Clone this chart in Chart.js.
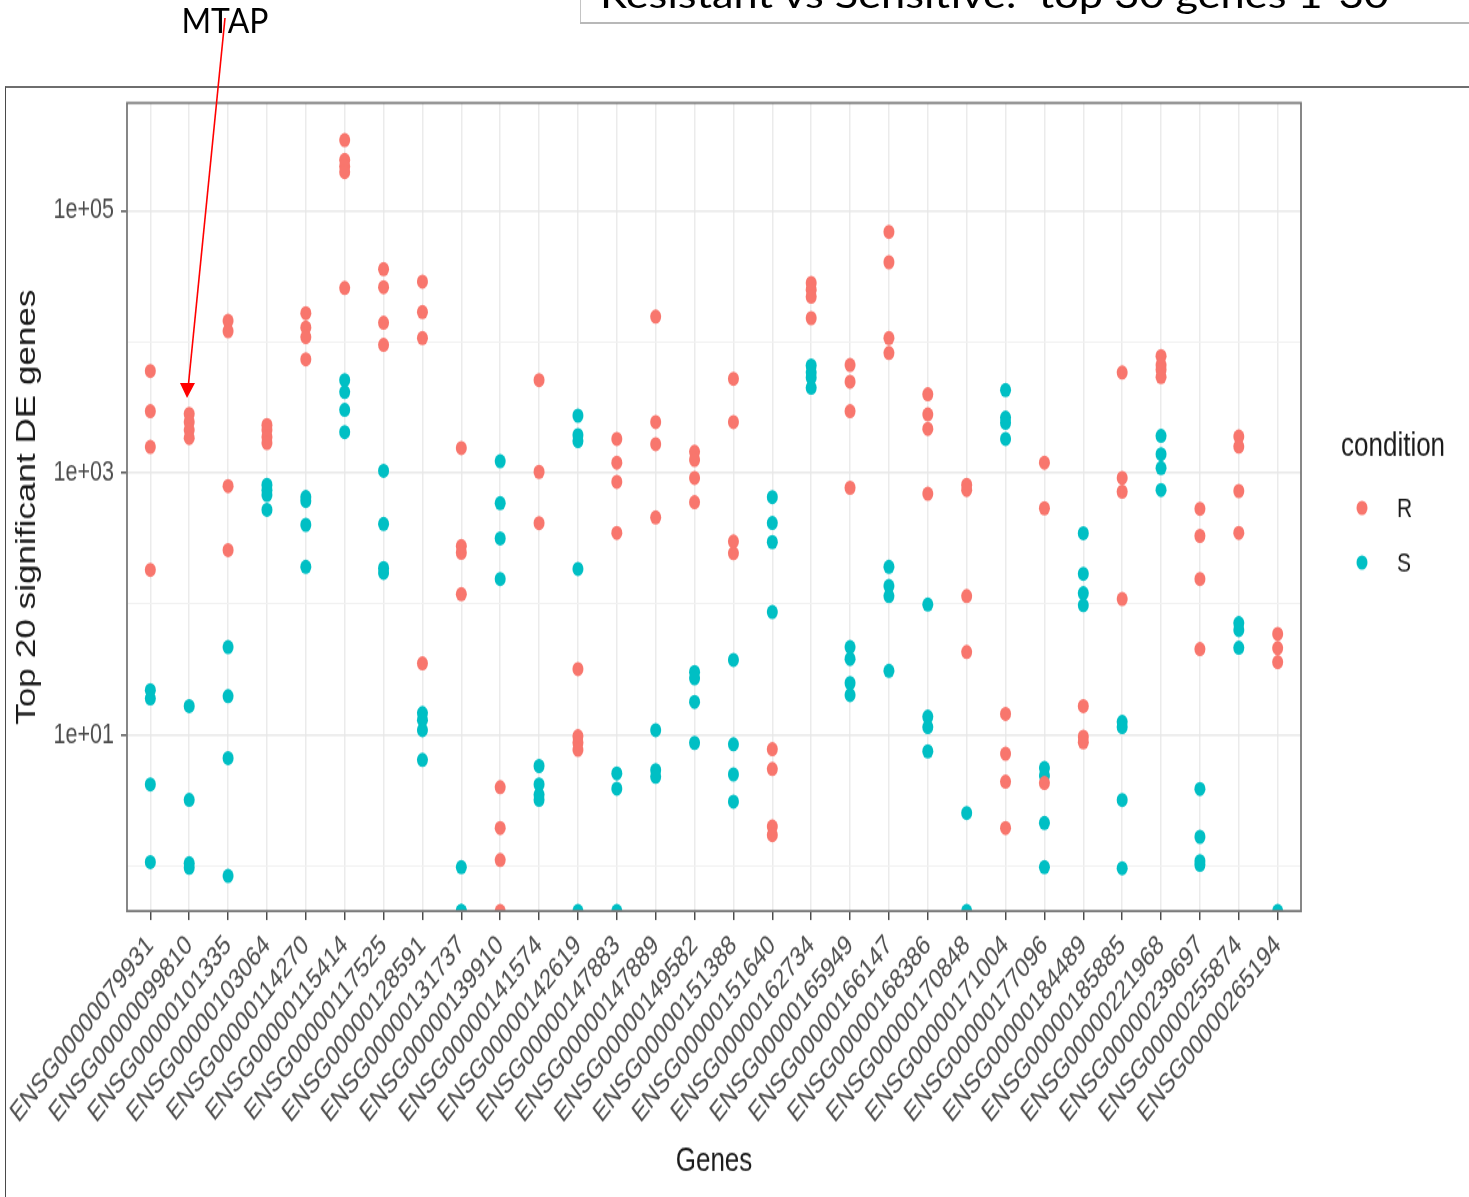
<!DOCTYPE html>
<html>
<head>
<meta charset="utf-8">
<script src="https://cdn.jsdelivr.net/npm/chart.js@4.4.1/dist/chart.umd.min.js"></script>
<style>
  html, body { margin: 0; padding: 0; background: #fff; }
  body { width: 1469px; height: 1197px; position: relative; overflow: hidden; }
  #frame {
    position: absolute; left: 5px; top: 86px; width: 1470px; height: 1120px;
    border-top: 2px solid #6e6e6e; border-left: 1px solid #4a4a4a;
  }
  /* the ggplot image in the reference is stretched vertically, so is ours */
  #wrap {
    position: absolute; left: 6px; top: 88px; width: 1463px; height: 853px;
    transform: scaleY(1.3); transform-origin: 0 0;
  }
  #overlay { position: absolute; left: 0; top: 0; z-index: 2; pointer-events: none; }
</style>
</head>
<body>
<div id="frame"></div>
<div id="wrap"><canvas id="chart" width="1463" height="853"></canvas></div>
<svg id="overlay" width="1469" height="1197" xmlns="http://www.w3.org/2000/svg">
  <line x1="580.5" y1="0" x2="580.5" y2="23" stroke="#c4c4c4" stroke-width="1"/>
  <line x1="580" y1="23" x2="1469" y2="23" stroke="#b8b8b8" stroke-width="2"/>
  <text x="600" y="8" font-family="Lato, 'Open Sans', sans-serif" font-size="37" fill="#000"
        textLength="789" lengthAdjust="spacingAndGlyphs" style="white-space:pre">Resistant vs Sensitive:  top 30 genes 1-30</text>
  <text x="225" y="33" text-anchor="middle" font-family="Lato, 'Open Sans', sans-serif" font-size="35" fill="#000"
        textLength="87" lengthAdjust="spacingAndGlyphs">MTAP</text>
  <line x1="225" y1="18" x2="188.5" y2="384" stroke="#ff0000" stroke-width="1.6"/>
  <polygon points="187,398 180,383 195,383" fill="#ff0000"/>
</svg>

<script>
const FONT = "'Liberation Sans', Arial, sans-serif";

const GENES = [
  'ENSG00000079931', 'ENSG00000099810', 'ENSG00000101335', 'ENSG00000103064', 'ENSG00000114270',
  'ENSG00000115414', 'ENSG00000117525', 'ENSG00000128591', 'ENSG00000131737', 'ENSG00000139910',
  'ENSG00000141574', 'ENSG00000142619', 'ENSG00000147883', 'ENSG00000147889', 'ENSG00000149582',
  'ENSG00000151388', 'ENSG00000151640', 'ENSG00000162734', 'ENSG00000165949', 'ENSG00000166147',
  'ENSG00000168386', 'ENSG00000170848', 'ENSG00000171004', 'ENSG00000177096', 'ENSG00000184489',
  'ENSG00000185885', 'ENSG00000221968', 'ENSG00000239697', 'ENSG00000255874', 'ENSG00000265194',
];

// normalized counts per sample, one list per gene (0 = no counts, drawn on the panel edge like ggplot's -Inf)
const R_VALUES = [
  [6000, 2960, 1580, 182],
  [2820, 2450, 2130, 1850],
  [14500, 12100, 795, 258],
  [2325, 2130, 1884, 1693],
  [16600, 12900, 10900, 7380],
  [347000, 245000, 219000, 198000, 25800],
  [36000, 26200, 14000, 9510],
  [28900, 16900, 10700, 35.2],
  [1550, 277, 246, 119],
  [4.0, 1.95, 1.11, 0],
  [5120, 1020, 414],
  [31.9, 9.8, 8.7, 7.7],
  [1820, 1200, 856, 349],
  [15600, 2450, 1660, 458],
  [1450, 1260, 917, 598],
  [5230, 2450, 300, 244],
  [7.8, 5.5, 2.0, 1.72],
  [28200, 25000, 22100, 15200],
  [6660, 4970, 2960, 771],
  [69200, 40600, 10700, 8240],
  [3990, 2800, 2170, 694],
  [812, 742, 115, 43],
  [14.5, 7.2, 4.4, 1.95],
  [1200, 538, 4.3],
  [16.6, 9.7, 8.8],
  [5840, 917, 720, 109],
  [7810, 6660, 6140, 5400],
  [533, 331, 155, 45.3],
  [1900, 1590, 728, 349],
  [59, 46, 36],
];

const S_VALUES = [
  [22, 19, 4.2, 1.07],
  [16.6, 3.2, 1.05, 0.97],
  [46.9, 19.8, 6.67, 0.84],
  [812, 742, 678, 523],
  [656, 611, 402, 192],
  [5120, 4150, 3030, 2050],
  [1040, 408, 188, 173],
  [14.7, 13.0, 10.9, 6.45],
  [0.98, 0, 0],
  [1230, 589, 317, 155],
  [5.8, 4.2, 3.5, 3.2],
  [2740, 1950, 1750, 185, 0],
  [5.1, 3.9, 0],
  [10.9, 5.4, 4.8],
  [30.3, 27.1, 17.9, 8.7],
  [37.4, 8.5, 5.0, 3.1],
  [655, 415, 297, 86.8],
  [6620, 5850, 5330, 4470],
  [46.9, 38.0, 24.9, 20.2],
  [192, 137, 115, 30.9],
  [99, 13.8, 11.5, 7.5],
  [2.54, 0],
  [4290, 2640, 2410, 1820],
  [5.6, 4.9, 2.13, 0.98],
  [347, 170, 121, 98],
  [12.6, 11.5, 3.19, 0.96],
  [1920, 1390, 1090, 742],
  [3.87, 1.67, 1.09, 1.02],
  [71.5, 63.3, 46.3],
  [0],
];

const CONDITIONS = ['R', 'S'];
const COLORS = ['#F8766D', '#00BFC4'];

const Y_MIN = 0.453;
const Y_MAX = 6.67e5;
const Y_GRID = [1, 10, 100, 1000, 1e4, 1e5];
const Y_LABELED = [10, 1000, 1e5];

function toPoints(values) {
  const pts = [];
  values.forEach((vals, i) => vals.forEach(v => pts.push({ x: i + 1, y: v > 0 ? v : Y_MIN })));
  return pts;
}

function sciLabel(v) {
  return '1e+' + String(Math.round(Math.log10(v))).padStart(2, '0');
}

const isLabeled = ctx => ctx.tick && Y_LABELED.includes(ctx.tick.value);

// panel border + "condition" legend, drawn the ggplot way
const panelAndLegend = {
  id: 'panelAndLegend',
  afterDraw(chart) {
    const { ctx, chartArea: a } = chart;
    ctx.save();
    ctx.strokeStyle = '#7a7a7a';
    ctx.lineWidth = 1.8;
    ctx.strokeRect(a.left, a.top, a.right - a.left, a.bottom - a.top);

    ctx.fillStyle = '#1a1a1a';
    ctx.textAlign = 'left';
    ctx.textBaseline = 'middle';
    ctx.font = `26px ${FONT}`;
    ctx.fillText('condition', a.right + 40, 276);

    const keyY = [323, 365];
    ctx.font = `21px ${FONT}`;
    CONDITIONS.forEach((c, i) => {
      ctx.fillStyle = COLORS[i];
      ctx.beginPath();
      ctx.arc(a.right + 61, keyY[i], 5.5, 0, Math.PI * 2);
      ctx.fill();
      ctx.fillStyle = '#1a1a1a';
      ctx.fillText(c, a.right + 96, keyY[i] + 1);
    });
    ctx.restore();
  },
};

new Chart(document.getElementById('chart'), {
  type: 'scatter',
  data: {
    datasets: [R_VALUES, S_VALUES].map((vals, i) => ({
      label: CONDITIONS[i],
      data: toPoints(vals),
      backgroundColor: COLORS[i],
      borderColor: COLORS[i],
      borderWidth: 0,
      pointRadius: 5.5,
      clip: 0,
    })),
  },
  options: {
    responsive: false,
    animation: false,
    layout: { padding: { top: 11.5, right: 168, bottom: 0, left: 0 } },
    plugins: { legend: { display: false }, tooltip: { enabled: false } },
    scales: {
      x: {
        type: 'linear',
        min: 0.4,
        max: GENES.length + 0.6,
        afterBuildTicks: s => { s.ticks = GENES.map((g, i) => ({ value: i + 1 })); },
        afterFit: s => { s.height = 219.9; s.paddingLeft = 0; s.paddingRight = 0; },
        border: { display: false },
        grid: { color: '#ebebeb', lineWidth: 1.5, tickLength: 7, tickColor: '#444', tickWidth: 1.4 },
        ticks: {
          autoSkip: false, minRotation: 45, maxRotation: 45, padding: 7,
          color: '#4d4d4d', font: { family: FONT, size: 21.5 },
          callback: (v, i) => GENES[i],
        },
        title: {
          display: true, text: 'Genes', color: '#1a1a1a',
          font: { family: FONT, size: 26 }, padding: { top: 0, bottom: 12 },
        },
      },
      y: {
        type: 'logarithmic',
        min: Y_MIN,
        max: Y_MAX,
        afterBuildTicks: s => { s.ticks = Y_GRID.map(v => ({ value: v })); },
        afterFit: s => { s.width = 121; s.paddingTop = 0; s.paddingBottom = 0; },
        border: { display: false },
        grid: {
          color: ctx => isLabeled(ctx) ? '#e8e8e8' : '#f1f1f1',
          lineWidth: ctx => isLabeled(ctx) ? 1.6 : 1,
          tickLength: 6,
          tickColor: ctx => isLabeled(ctx) ? '#444' : 'rgba(0,0,0,0)',
          tickWidth: 1.4,
        },
        ticks: {
          padding: 7, color: '#4d4d4d', font: { family: FONT, size: 21.5 },
          callback: v => Y_LABELED.includes(v) ? sciLabel(v) : '',
        },
        title: {
          display: true, text: 'Top 20 significant DE genes', color: '#1a1a1a',
          font: { family: FONT, size: 27 }, padding: { top: 5, bottom: 0 },
        },
      },
    },
  },
  plugins: [panelAndLegend],
});
</script>
</body>
</html>
